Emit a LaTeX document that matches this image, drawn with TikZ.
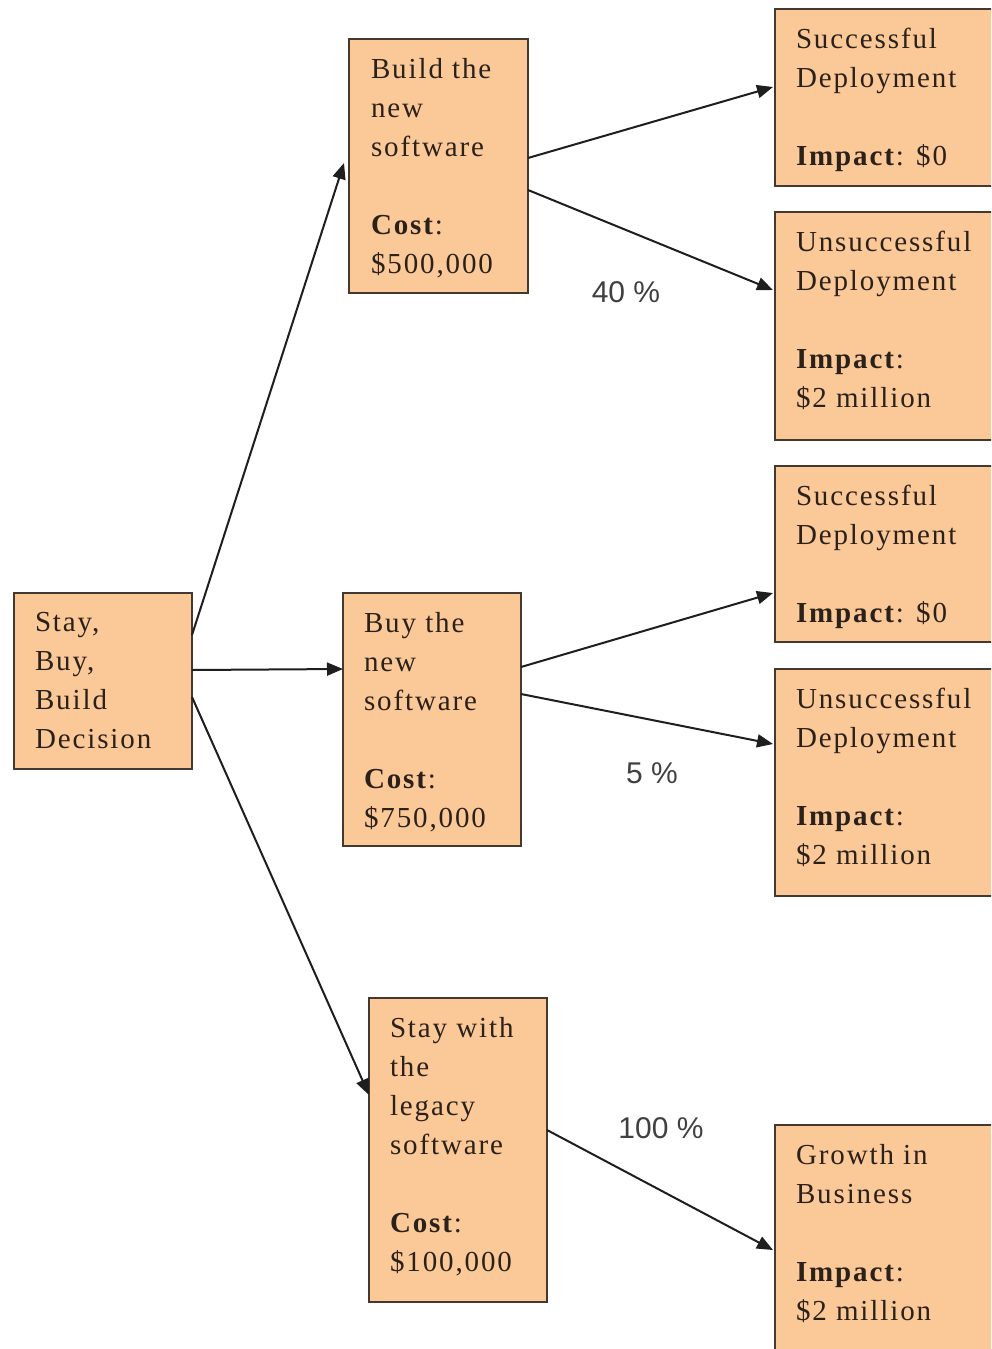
\documentclass[tikz,border=0pt]{standalone}
\usepackage{fontspec}
\setmainfont[LetterSpace=6.5]{Liberation Serif}
\newfontfamily\pctfont{Liberation Sans}
\usetikzlibrary{arrows.meta}
\definecolor{peach}{HTML}{FBC898}
\definecolor{edge}{HTML}{44392F}
\definecolor{ink}{HTML}{2B211B}
\definecolor{wire}{HTML}{1E1E1E}
\begin{document}
\begin{tikzpicture}[x=1pt,y=-1pt,
  box/.style={draw=edge,fill=peach,line width=2.4pt,inner sep=0pt,outer sep=0pt,anchor=north west},
  txt/.style={anchor=north west,inner sep=0pt,outer sep=0pt,align=left,text=ink,font=\fontsize{29}{39}\selectfont},
  pct/.style={font=\pctfont\fontsize{30}{36}\selectfont,text=wire!85,inner sep=0pt},
  link/.style={draw=wire,line width=2pt,-{Triangle[length=16pt,width=13pt]}}]

\useasboundingbox (0,0) rectangle (991,1349);
\clip (0,0) rectangle (991,1349);
\fill[white] (0,0) rectangle (991,1349);

% decision and option boxes
\node[box,minimum width=178,minimum height=176] (dec) at (14,593) {};
\node[box,minimum width=179,minimum height=254] (build) at (349,39) {};
\node[box,minimum width=178,minimum height=253] (buy) at (343,593) {};
\node[box,minimum width=178,minimum height=304] (stay) at (369,998) {};

% outcome boxes (run past the right edge)
\node[box,minimum width=240,minimum height=177] (s1) at (775,9) {};
\node[box,minimum width=240,minimum height=228] (u1) at (775,212) {};
\node[box,minimum width=240,minimum height=176] (s2) at (775,466) {};
\node[box,minimum width=240,minimum height=227] (u2) at (775,669) {};
\node[box,minimum width=240,minimum height=250] (grow) at (775,1125) {};

% box texts
\node[txt] (decT) at ([shift={(21,19)}]dec.north west) {Stay,\\ Buy,\\ Build\\ Decision};
\node[txt] (buildT) at ([shift={(22,19)}]build.north west) {Build the\\ new\\ software\\[39pt] \textbf{Cost}:\\ \$500,000};
\node[txt] (buyT) at ([shift={(21,19)}]buy.north west) {Buy the\\ new\\ software\\[39pt] \textbf{Cost}:\\ \$750,000};
\node[txt] (stayT) at ([shift={(21,19)}]stay.north west) {Stay with\\ the\\ legacy\\ software\\[39pt] \textbf{Cost}:\\ \$100,000};
\node[txt] (s1T) at ([shift={(21,19)}]s1.north west) {Successful\\ Deployment\\[39pt] \textbf{Impact}: \$0};
\node[txt] (u1T) at ([shift={(21,19)}]u1.north west) {Unsuccessful\\ Deployment\\[39pt] \textbf{Impact}:\\ \$2 million};
\node[txt] (s2T) at ([shift={(21,19)}]s2.north west) {Successful\\ Deployment\\[39pt] \textbf{Impact}: \$0};
\node[txt] (u2T) at ([shift={(21,19)}]u2.north west) {Unsuccessful\\ Deployment\\[39pt] \textbf{Impact}:\\ \$2 million};
\node[txt] (growT) at ([shift={(21,19)}]grow.north west) {Growth in\\ Business\\[39pt] \textbf{Impact}:\\ \$2 million};

% connectors
\draw[link] ([yshift=46]dec.east) -- ([xshift=-5,yshift=3]build.west);
\draw[link] ([yshift=11]dec.east) -- ([yshift=50.5]buy.west);
\draw[link] ([yshift=-16]dec.east) -- ([yshift=55]stay.west);
\draw[link] ([yshift=8]build.east) -- ([xshift=-2,yshift=10.5]s1.west);
\draw[link] ([yshift=-24]build.east) -- ([xshift=-2,yshift=36]u1.west);
\draw[link] ([yshift=52.5]buy.east) -- ([xshift=-2,yshift=-39]s2.west);
\draw[link] ([yshift=25.5]buy.east) -- ([xshift=-2,yshift=38.5]u2.west);
\draw[link] ([yshift=20]stay.east) -- ([xshift=-2,yshift=-125]grow.north west);

% probabilities
\node[pct] (p40) at (626,292) {40 \%};
\node[pct] (p5) at (652,773) {5 \%};
\node[pct] (p100) at (661,1128) {100 \%};
\end{tikzpicture}
\end{document}
